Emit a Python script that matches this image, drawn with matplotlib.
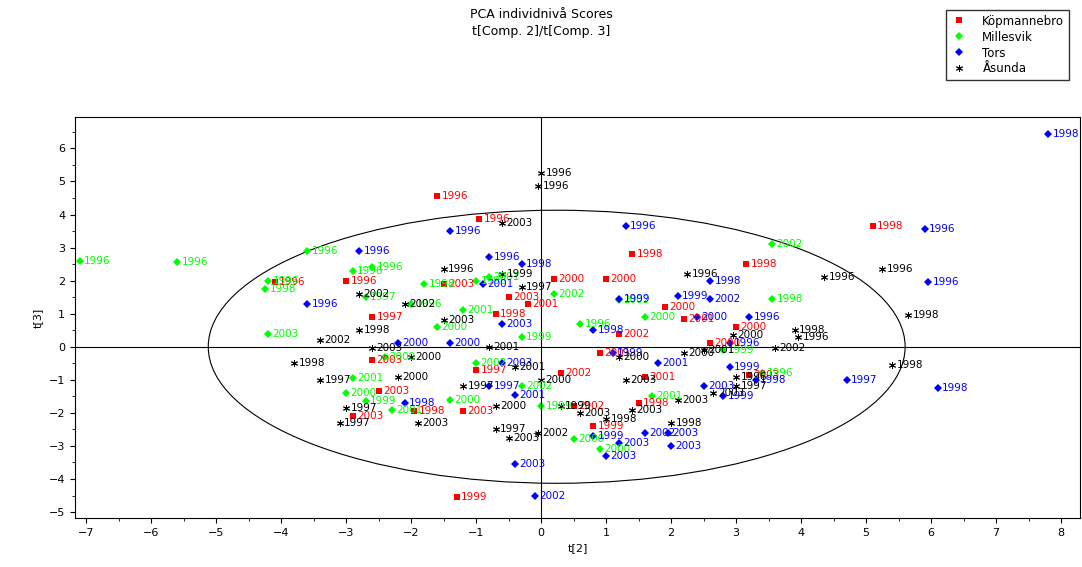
import matplotlib
matplotlib.use("Agg")
import matplotlib.pyplot as plt
from matplotlib.patches import Ellipse
from matplotlib.ticker import MultipleLocator

kop_x = [-1.6,-0.95,1.4,5.1,3.15,-3.0,-4.1,-2.6,0.2,1.0,-0.7,3.0,2.2,3.2,-1.2,-1.95,-2.5,-2.9,-1.3,0.8,1.5,-2.6,-1.0,0.3,1.2,-0.5,1.9,2.6,-1.5,0.5,0.9,1.6,-0.2]
kop_y = [4.55,3.85,2.8,3.65,2.5,2.0,1.95,0.9,2.05,2.05,1.0,0.6,0.85,-0.85,-1.95,-1.95,-1.35,-2.1,-4.55,-2.4,-1.7,-0.4,-0.7,-0.8,0.4,1.5,1.2,0.1,1.9,-1.8,-0.2,-0.9,1.3]
kop_l = [1996,1996,1998,1998,1998,1996,1996,1997,2000,2000,1998,2000,2001,2003,2003,1998,2003,2003,1999,1999,1998,2003,1997,2002,2002,2003,2000,2000,2003,2002,2001,2001,2001]

mil_x = [-7.1,-5.6,-3.6,-2.9,-2.6,-4.2,-4.25,-4.2,3.55,3.55,3.4,-2.9,-3.0,-2.7,-2.3,-1.4,0.9,1.2,0.2,-0.8,-1.0,-1.8,-2.7,-2.0,-1.2,-1.6,-1.0,-0.3,0.6,1.6,0.0,0.5,-0.3,2.8,-2.4,1.7]
mil_y = [2.6,2.55,2.9,2.3,2.4,2.0,1.75,0.4,3.1,1.45,-0.8,-0.95,-1.4,-1.65,-1.9,-1.6,-3.1,1.4,1.6,2.1,2.0,1.9,1.5,1.3,1.1,0.6,-0.5,0.3,0.7,0.9,-1.8,-2.8,-1.2,-0.1,-0.3,-1.5]
mil_l = [1996,1996,1996,1996,1996,1996,1998,2003,2002,1998,1996,2001,2000,1999,2001,2000,2000,2002,2002,2001,1996,1998,1997,1996,2001,2000,2002,1999,1996,2000,1999,2000,2002,1999,2000,2001]

tor_x = [7.8,5.9,5.95,6.1,4.7,3.3,1.3,-1.4,-2.8,-0.8,-0.3,-3.6,-0.9,2.6,2.1,2.6,1.2,3.2,2.4,2.9,-2.1,-0.4,-0.6,-0.4,-0.1,1.0,1.95,2.0,1.2,0.8,1.6,2.5,2.8,2.9,-0.6,-2.2,0.8,1.8,-0.8,1.1,-1.4]
tor_y = [6.45,3.55,1.95,-1.25,-1.0,-1.0,3.65,3.5,2.9,2.7,2.5,1.3,1.9,2.0,1.55,1.45,1.45,0.9,0.9,0.1,-1.7,-1.45,-0.5,-3.55,-4.5,-3.3,-2.6,-3.0,-2.9,-2.7,-2.6,-1.2,-1.5,-0.6,0.7,0.1,0.5,-0.5,-1.2,-0.2,0.1]
tor_l = [1998,1996,1996,1998,1997,1998,1996,1996,1996,1996,1998,1996,2001,1998,1999,2002,1999,1996,2000,1996,1998,2001,2003,2003,2002,2003,2003,2003,2003,1999,2002,2003,1999,1999,2003,2000,1998,2001,1997,1999,2000]

asu_x = [0.0,-0.05,-0.6,2.25,4.35,5.25,5.65,5.4,3.9,3.95,3.6,2.95,-1.5,-0.6,-0.3,-2.8,-2.1,-2.8,-3.4,-3.8,-3.4,-3.0,-3.1,-1.9,-0.7,-0.5,-0.05,1.0,2.0,-0.7,0.3,0.6,1.4,3.0,3.0,2.65,2.1,1.3,1.2,2.2,2.5,-2.6,-2.0,-1.2,-0.4,0.0,-0.8,-1.5,-2.2]
asu_y = [5.25,4.85,3.75,2.2,2.1,2.35,0.95,-0.55,0.5,0.3,-0.05,0.35,2.35,2.2,1.8,1.6,1.3,0.5,0.2,-0.5,-1.0,-1.85,-2.3,-2.3,-2.5,-2.75,-2.6,-2.2,-2.3,-1.8,-1.8,-2.0,-1.9,-0.9,-1.2,-1.4,-1.6,-1.0,-0.3,-0.2,-0.1,-0.05,-0.3,-1.2,-0.6,-1.0,0.0,0.8,-0.9]
asu_l = [1996,1996,2003,1996,1996,1996,1998,1998,1998,1996,2002,2000,1996,1999,1997,2002,2002,1998,2002,1998,1997,1997,1997,2003,1997,2003,2002,1998,1998,2000,1999,2003,2003,1996,1997,2003,2003,2003,2000,2000,2001,2003,2000,1997,2001,2000,2001,2003,2000]

groups = [("Köpmannebro", kop_x, kop_y, kop_l, "#ff0000", "s", 5),
          ("Millesvik", mil_x, mil_y, mil_l, "#00ff00", "D", 4.5),
          ("Tors", tor_x, tor_y, tor_l, "#0000ff", "D", 4.5),
          ("Åsunda", asu_x, asu_y, asu_l, "#000000", (6, 2, 0), 5)]

fig = plt.figure(figsize=(10.82, 5.67), dpi=100)
ax = fig.add_axes([75/1082, 1-518/567, 1005/1082, 401/567])
for name, xs, ys, ls, c, m, ms in groups:
    ax.plot(xs, ys, linestyle="none", marker=m, color=c, markersize=ms, label=name,
            markeredgewidth=0.7 if m not in ("s", "D") else 0)
    for x, y, l in zip(xs, ys, ls):
        ax.text(x + 0.07, y, str(l), color=c, fontsize=7.5, va="center", ha="left")

ax.add_patch(Ellipse((0.24, 0.0), 2*5.36, 2*4.13, fill=False, color="black", lw=0.8))
ax.axhline(0, color="black", lw=0.8)
ax.axvline(0, color="black", lw=0.8)
ax.set_xlim(-7.17, 8.29)
ax.set_ylim(-5.18, 6.95)
ax.xaxis.set_major_locator(MultipleLocator(1))
ax.yaxis.set_major_locator(MultipleLocator(1))
ax.xaxis.set_minor_locator(MultipleLocator(0.5))
ax.yaxis.set_minor_locator(MultipleLocator(0.5))
ax.tick_params(labelsize=8, direction="out")
ax.set_xlabel("t[2]", fontsize=8)
ax.set_ylabel("t[3]", fontsize=8)
fig.text(0.5, 1-15/567, "PCA individnivå Scores", ha="center", va="center", fontsize=9)
fig.text(0.5, 1-32/567, "t[Comp. 2]/t[Comp. 3]", ha="center", va="center", fontsize=9)
fig.legend(loc="upper right", bbox_to_anchor=(1075/1082, 1-4/567), fontsize=8.5,
           fancybox=False, edgecolor="black", handletextpad=1.2, borderpad=0.4,
           labelspacing=0.25, handlelength=1.5)
fig.savefig("out.png", dpi=100)
